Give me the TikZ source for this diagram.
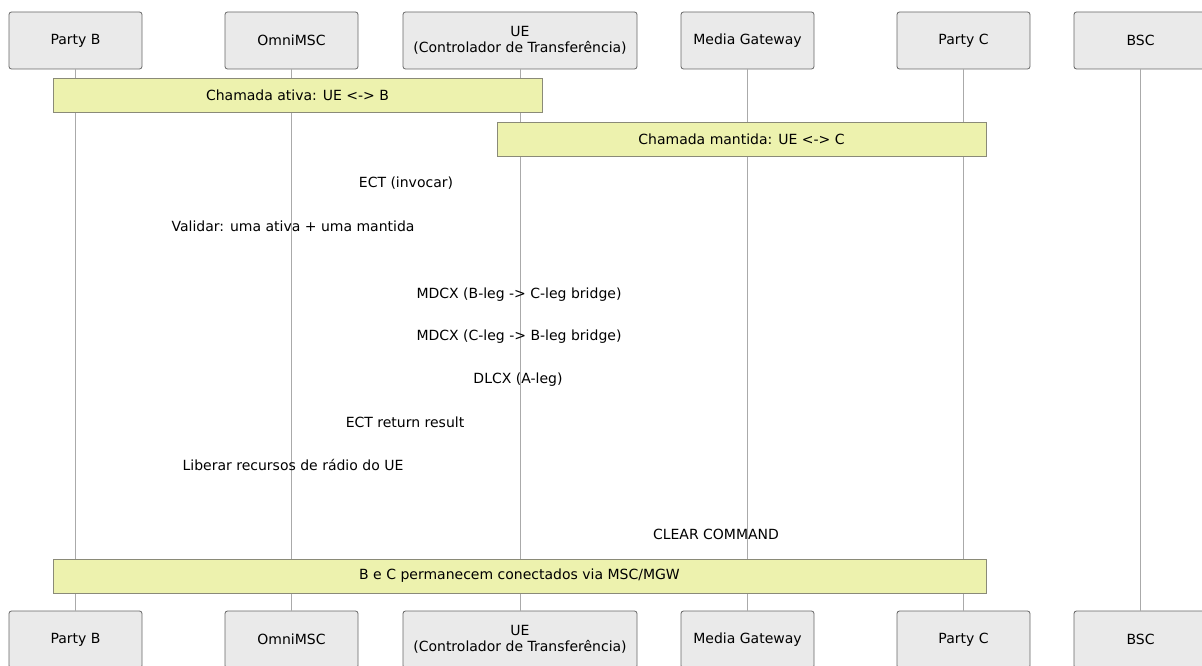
\documentclass[tikz,border=0pt]{standalone}
\usepackage{fontspec}
\setmainfont{DejaVu Sans}
\definecolor{actorfill}{HTML}{EAEAEA}
\definecolor{actorline}{HTML}{666666}
\definecolor{notefill}{HTML}{EDF2AE}
\definecolor{noteline}{HTML}{8A8A78}
\definecolor{lifecol}{HTML}{AAAAAA}

\begin{document}
\begin{tikzpicture}[
    x=1pt, y=-1pt,
    every node/.style={font=\fontsize{14}{16}\selectfont},
    actor/.style={
        rectangle, rounded corners=2.5pt,
        draw=actorline, fill=actorfill,
        line width=0.8pt,
        minimum height=57pt,
        inner sep=0pt,
        align=center
    },
    note/.style={draw=noteline, fill=notefill, line width=0.8pt, minimum height=34pt, inner sep=0pt},
    msg/.style={inner sep=0pt},
    lifeline/.style={draw=lifecol, line width=0.8pt}
]
\useasboundingbox (0,0) rectangle (1202,666);
% participants, top and bottom
\foreach \n/\x/\w/\t in {
    pb/75.5/133pt/{Party B},
    msc/291.5/133pt/{OmniMSC},
    ue/520/234pt/{UE\\(Controlador de Transferência)},
    mgw/747.5/133pt/{Media Gateway},
    pc/963.5/133pt/{Party C},
    bsc/1140.5/133pt/{BSC}}{
  \node[actor, minimum width=\w] (\n-top) at (\x,40.5) {\t};
  \node[actor, minimum width=\w] (\n-bot) at (\x,639.5) {\t};
  \draw[lifeline] (\n-top) -- (\n-bot);
}
% notes
\node[note, minimum width=489pt] (active) at (297.5,95) {Chamada ativa: UE <-> B};
\node[note, minimum width=489pt] (held) at (741.5,139) {Chamada mantida: UE <-> C};
\node[note, minimum width=933pt] (bridged) at (519.5,576) {B e C permanecem conectados via MSC/MGW};
% messages
\node[msg] (ect) at (406,183) {ECT (invocar)};
\node[msg] (validar) at (293,226) {Validar: uma ativa + uma mantida};
\node[msg] (mdcxb) at (519,295) {MDCX (B-leg -> C-leg bridge)};
\node[msg] (mdcxc) at (519,337) {MDCX (C-leg -> B-leg bridge)};
\node[msg] (dlcx) at (518,380) {DLCX (A-leg)};
\node[msg] (ectres) at (405,422) {ECT return result};
\node[msg] (liberar) at (293,465) {Liberar recursos de rádio do UE};
\node[msg] (clear) at (716,534) {CLEAR COMMAND};
\end{tikzpicture}
\end{document}
